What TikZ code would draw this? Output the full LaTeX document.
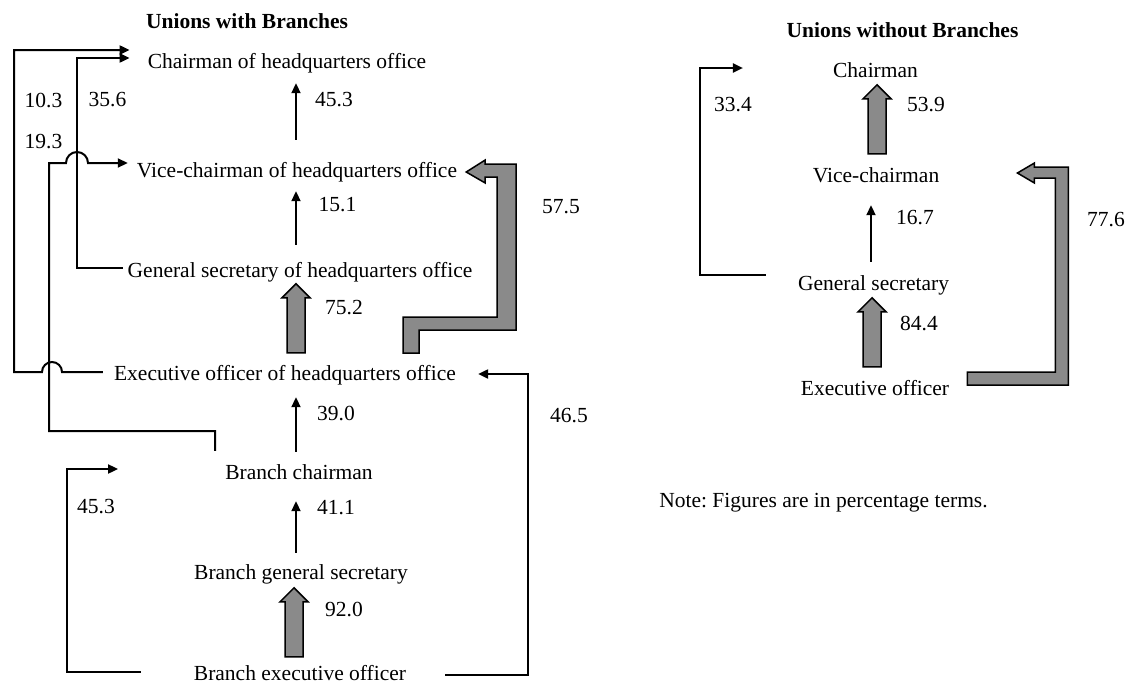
\documentclass[tikz,border=0pt]{standalone}
\usepackage{fontspec}
\setmainfont{Liberation Serif}
\usetikzlibrary{arrows.meta,calc}
\definecolor{fillgray}{RGB}{138,138,138}
\frenchspacing
\begin{document}
\begin{tikzpicture}[x=1pt,y=-1pt,
  lbl/.style={font=\fontsize{21.5}{24}\selectfont, inner sep=0pt, text height=15pt, text depth=5pt},
  num/.style={font=\fontsize{21.5}{24}\selectfont, inner sep=0pt},
  ttl/.style={font=\fontsize{21.5}{24}\selectfont\bfseries, inner sep=0pt},
  arr/.style={line width=2pt, line join=miter, -{Triangle[length=10pt,width=9pt]}},
  fat/.style={draw=black, line width=1.5pt, fill=fillgray, line join=miter},
  fatup/.pic={\draw[fat] (-9,0) -- (-9,-55) -- (-14,-55) -- (0,-69) -- (14,-55) -- (9,-55) -- (9,0) -- cycle;}
]
\useasboundingbox (0,0) rectangle (1130,683);
\fill[white] (0,0) rectangle (1130,683);

% ---------- Unions with Branches ----------
\node[ttl] (t1) at (247,21) {Unions with Branches};
\node[lbl] (hqchair) at (287,63) {Chairman of headquarters office};
\node[lbl] (hqvice) at (297,172) {Vice-chairman of headquarters office};
\node[lbl] (hqgen) at (300,272) {General secretary of headquarters office};
\node[lbl] (hqexec) at (285,375) {Executive officer of headquarters office};
\node[lbl] (brchair) at (299,474) {Branch chairman};
\node[lbl] (brgen) at (301,574) {Branch general secretary};
\node[lbl] (brexec) at (300,675) {Branch executive officer};

\coordinate (colL) at (296,0);
\coordinate (colLb) at (294,0);

% numbers
\node[num] (n103) at (43.5,100) {10.3};
\node[num] (n356) at (107.5,100) {35.6};
\node[num] (n193) at (43.5,142) {19.3};
\node[num] (n453a) at (334,100) {45.3};
\node[num] (n151) at (337.5,205) {15.1};
\node[num] (n575) at (561,207) {57.5};
\node[num] (n752) at (344,308) {75.2};
\node[num] (n465) at (569,416) {46.5};
\node[num] (n390) at (336,413) {39.0};
\node[num] (n453b) at (96,507) {45.3};
\node[num] (n411) at (336,508) {41.1};
\node[num] (n920) at (344,609) {92.0};

% straight thin arrows
\draw[arr, shorten <=22pt, shorten >=10pt] (hqvice.north -| colL) -- (hqchair.south -| colL);
\draw[arr, shorten <=17pt, shorten >=9pt] (hqgen.north -| colL) -- (hqvice.south -| colL);
\draw[arr, shorten <=12pt, shorten >=12pt] (brchair.north -| colL) -- (hqexec.south -| colL);
\draw[arr, shorten <=11pt, shorten >=17pt] (brgen.north -| colL) -- (brchair.south -| colL);

% thick straight arrows
\pic at ($(hqexec.north -| colL)+(0,-12)$) {fatup};
\pic at ($(brexec.north -| colLb)+(0,-8)$) {fatup};

% bypass connectors
\draw[arr] ([xshift=-11pt,yshift=3pt]hqexec.west) -- (62,372)
  arc[start angle=0,end angle=180,radius=10pt] -- (14,372) -- (14,50)
  -- ([xshift=-18pt,yshift=13pt]hqchair.west);
\draw[arr] ([xshift=-5pt,yshift=4pt]hqgen.west) -| (77,58)
  -- ([xshift=-18pt,yshift=5pt]hqchair.west);
\draw[arr] ([xshift=-10pt,yshift=13pt]brchair.north west) |- (49,431) -- (49,163) -- (66,163)
  arc[start angle=180,end angle=0,radius=11pt]
  -- ([xshift=-9pt,yshift=9pt]hqvice.west);
\draw[arr] ([xshift=-53pt,yshift=3pt]brexec.west) -| (67,469)
  -- ([xshift=-107pt,yshift=5pt]brchair.west);
\draw[arr] ([xshift=39pt]brexec.east) -| (528,374)
  -- ([xshift=22pt,yshift=1pt]hqexec.east);

% thick L arrow 57.5 (drawn from its tip at the vice-chairman node)
\draw[fat] ([xshift=9pt]hqvice.east) -- ++(19,-12) -- ++(0,4) -- ++(31,0) -- ++(0,166)
  -- ++(-97,0) -- ++(0,23) -- ++(-16,0) -- ++(0,-36) -- ++(94,0) -- ++(0,-140)
  -- ++(-12,0) -- ++(0,6) -- cycle;

% ---------- Unions without Branches ----------
\node[ttl] (t2) at (902.5,30) {Unions without Branches};
\node[lbl] (rchair) at (875.5,72) {Chairman};
\node[lbl] (rvice) at (876,177) {Vice-chairman};
\node[lbl] (rgen) at (873.5,285) {General secretary};
\node[lbl] (rexec) at (875,390) {Executive officer};

\coordinate (colR) at (871,0);
\coordinate (colRa) at (877,0);
\coordinate (colRb) at (872,0);

\node[num] (n334) at (733,105) {33.4};
\node[num] (n539) at (926,105) {53.9};
\node[num] (n167) at (915,218) {16.7};
\node[num] (n776) at (1106,220) {77.6};
\node[num] (n844) at (919,323) {84.4};

\pic at ($(rvice.north -| colRa)+(0,-13)$) {fatup};
\pic at ($(rexec.north -| colRb)+(0,-13)$) {fatup};
\draw[arr, shorten <=13pt, shorten >=18pt] (rgen.north -| colR) -- (rvice.south -| colR);

\draw[arr] ([xshift=-32pt,yshift=10pt]rgen.west) -| (700,68)
  -- ([xshift=-90pt,yshift=4pt]rchair.west);

% thick L arrow 77.6 (drawn from its tip at the vice-chairman node)
\draw[fat] ([xshift=78pt,yshift=4pt]rvice.east) -- ++(17,-10) -- ++(0,4) -- ++(34,0) -- ++(0,218)
  -- ++(-101,0) -- ++(0,-13) -- ++(88,0) -- ++(0,-194) -- ++(-21,0) -- ++(0,5) -- cycle;

\node[num] (note) at (823.5,503) {Note: Figures are in percentage terms.};
\end{tikzpicture}
\end{document}
